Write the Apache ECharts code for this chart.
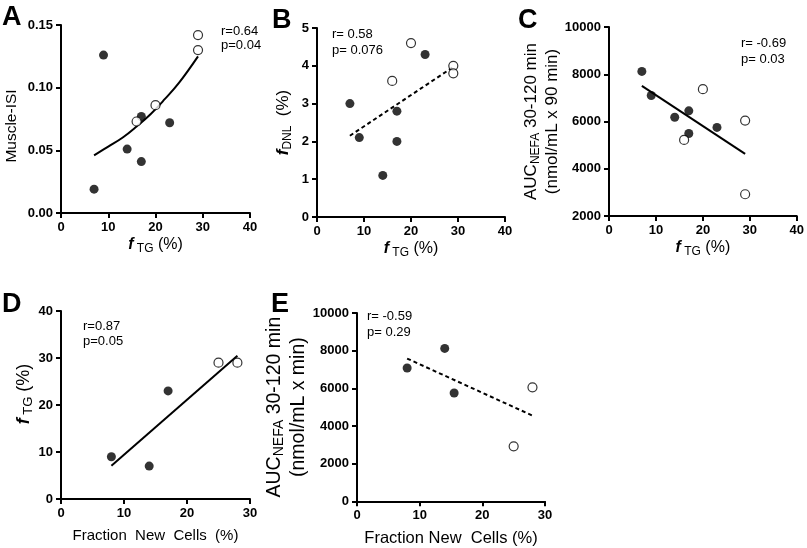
<!DOCTYPE html>
<html><head><meta charset="utf-8">
<script src="https://cdn.jsdelivr.net/npm/echarts@6/dist/echarts.min.js"></script>
<style>html,body{margin:0;padding:0;background:#fff}#c{width:807px;height:548px}</style>
</head><body><div id="c"></div>
<script>
// ---- data ----
const fTG_filled = [7, 9, 14, 17, 17, 23];
const fTG_open = [16, 20, 29, 29];
const isi_filled = [0.019, 0.126, 0.051, 0.077, 0.041, 0.072];
const isi_open = [0.073, 0.086, 0.142, 0.130];
const isiFitX = [7, 10, 13, 16, 19, 22, 25, 29];
const isiFitY = [0.046, 0.053, 0.060, 0.069, 0.079, 0.091, 0.104, 0.125];
const dnl_filled = [3.0, 2.1, 1.1, 2.8, 2.0, 4.3];
const dnl_open = [3.6, 4.6, 4.0, 3.8];
const dnlFitX = [7, 29];
const dnlFitY = [2.15, 3.97];
const auc_filled = [8120, 7100, 6180, 6450, 5490, 5750];
const auc_open = [5220, 7370, 6040, 2920];
const aucFitX = [7, 29];
const aucFitY = [7510, 4630];
const frac_filled = [8, 14, 17];
const frac_open = [25, 28];
const fTGd_filled = [9, 7, 23];
const fTGd_open = [29, 29];
const dFitX = [8, 28];
const dFitY = [7.1, 30.5];
const fracE_filled = [8, 14, 15.5];
const fracE_open = [25, 28];
const aucE_filled = [7080, 8120, 5750];
const aucE_open = [2920, 6050];
const eFitX = [8, 28];
const eFitY = [7580, 4550];
const stats = [
  ['r=0.64', 'p=0.04'],
  ['r= 0.58', 'p= 0.076'],
  ['r= -0.69', 'p= 0.03'],
  ['r=0.87', 'p=0.05'],
  ['r= -0.59', 'p= 0.29']
];
const panelLetters = ['A', 'B', 'C', 'D', 'E'];

// ---- helpers ----
const FONT = '"Liberation Sans", Arial, Helvetica, sans-serif';
const zip = (xs, ys) => xs.map((x, i) => [x, ys[i]]);
function richSet(main, sub) {
  return {
    fi: {fontFamily: FONT, fontSize: main, fontWeight: 'bold', fontStyle: 'italic', color: '#000', lineHeight: main + 4, verticalAlign: 'middle'},
    s: {fontFamily: FONT, fontSize: sub, color: '#000', lineHeight: sub, verticalAlign: 'bottom'},
    n: {fontFamily: FONT, fontSize: main, color: '#000', lineHeight: main + 4, verticalAlign: 'middle'}
  };
}
function xAx(idx, max, name, nameGap, rich) {
  return {
    gridIndex: idx, type: 'value', min: 0, max: max, interval: 10,
    axisLine: {onZero: false, lineStyle: {color: '#000', width: 2}},
    axisTick: {length: 5, lineStyle: {color: '#000', width: 2}},
    axisLabel: {color: '#000', fontFamily: FONT, fontWeight: 'bold', fontSize: 13, margin: 8},
    splitLine: {show: false},
    name: name, nameLocation: 'middle', nameGap: nameGap,
    nameTextStyle: {rich: rich, fontFamily: FONT, color: '#000'}
  };
}
function yAx(idx, min, max, interval, dec, name, nameGap, rich, pad) {
  return {
    gridIndex: idx, type: 'value', min: min, max: max, interval: interval,
    axisLine: {onZero: false, lineStyle: {color: '#000', width: 2}},
    axisTick: {length: 5, lineStyle: {color: '#000', width: 2}},
    axisLabel: {color: '#000', fontFamily: FONT, fontWeight: 'bold', fontSize: 13, margin: 8,
      formatter: v => v.toFixed(dec)},
    splitLine: {show: false},
    name: name, nameLocation: 'middle', nameGap: nameGap, nameRotate: 90,
    nameTextStyle: {rich: rich, fontFamily: FONT, color: '#000', padding: pad || 0}
  };
}
function filled(i, xs, ys) {
  return {type: 'scatter', xAxisIndex: i, yAxisIndex: i, data: zip(xs, ys), symbolSize: 9,
    itemStyle: {color: '#000'}, z: 5};
}
function open(i, xs, ys) {
  return {type: 'scatter', xAxisIndex: i, yAxisIndex: i, data: zip(xs, ys), symbolSize: 9,
    itemStyle: {color: '#fff', borderColor: '#000', borderWidth: 1.2}, z: 5};
}
function fit(i, xs, ys, dashed, smooth) {
  return {type: 'line', xAxisIndex: i, yAxisIndex: i, data: zip(xs, ys), symbol: 'none', smooth: smooth ? 0.4 : false,
    lineStyle: {color: '#000', width: 2, type: dashed ? [4, 3] : 'solid'}, z: 3};
}

const fTGname = '{fi|f}{s| TG}{n| (%)}';
const grids = [
  {left: 61, top: 25, width: 189, height: 188},
  {left: 317, top: 28, width: 188, height: 189},
  {left: 609, top: 27, width: 188, height: 189},
  {left: 61, top: 311, width: 189, height: 188},
  {left: 357, top: 313, width: 188, height: 189}
];
const statPos = [[221, 31, 14.5], [332, 34, 16.5], [741, 43, 16], [83, 326, 15], [367, 316, 16]];
const letterPos = [[2, 4], [272, 7], [518, 7], [2, 291], [271, 291]];

const graphic = [];
stats.forEach((s, i) => {
  const p = statPos[i];
  s.forEach((t, j) => graphic.push({type: 'text', x: p[0], y: p[1] + j * p[2],
    style: {text: t, fontFamily: FONT, fontSize: 13, fill: '#000', verticalAlign: 'middle', align: 'left'}}));
});
panelLetters.forEach((l, i) => graphic.push({type: 'text', x: letterPos[i][0], y: letterPos[i][1],
  style: {text: l, fontFamily: FONT, fontSize: 27, fontWeight: 'bold', fill: '#000', verticalAlign: 'top', align: 'left'}}));

const option = {
  animation: false,
  backgroundColor: '#fff',
  grid: grids,
  xAxis: [
    xAx(0, 40, fTGname, 22, richSet(16, 12)),
    xAx(1, 40, fTGname, 22, richSet(16, 12)),
    xAx(2, 40, fTGname, 22, richSet(16, 12)),
    xAx(3, 30, '{n|Fraction  New  Cells  (%)}', 27, richSet(15, 11)),
    xAx(4, 30, '{n|Fraction New  Cells (%)}', 27, richSet(16.5, 12))
  ],
  yAxis: [
    yAx(0, 0, 0.15, 0.05, 2, '{n|Muscle-ISI}', 40, richSet(15.5, 11), [0, 14, 0, 0]),
    yAx(1, 0, 5, 1, 0, '{fi|f}{s|DNL}{n|  (%)}', 23, richSet(17, 12)),
    yAx(2, 2000, 10000, 2000, 0, '{n|AUC}{s|NEFA}{n| 30-120 min}\n{n|(nmol/mL x 90 min)}', 37, richSet(17, 12)),
    yAx(3, 0, 40, 10, 0, '{fi|f}{s| TG}{n| (%)}', 19, richSet(18, 13), [0, 0, 0, 22]),
    yAx(4, 0, 10000, 2000, 0, '{n|AUC}{s|NEFA}{n| 30-120 min}\n{n|(nmol/mL x min)}', 47, richSet(19.5, 14))
  ],
  series: [
    fit(0, isiFitX, isiFitY, false, true),
    filled(0, fTG_filled, isi_filled),
    open(0, fTG_open, isi_open),
    fit(1, dnlFitX, dnlFitY, true),
    filled(1, fTG_filled, dnl_filled),
    open(1, fTG_open, dnl_open),
    fit(2, aucFitX, aucFitY, false),
    filled(2, fTG_filled, auc_filled),
    open(2, fTG_open, auc_open),
    fit(3, dFitX, dFitY, false),
    filled(3, frac_filled, fTGd_filled),
    open(3, frac_open, fTGd_open),
    fit(4, eFitX, eFitY, true),
    filled(4, fracE_filled, aucE_filled),
    open(4, fracE_open, aucE_open)
  ],
  graphic: graphic
};
const chart = echarts.init(document.getElementById('c'), null, {renderer: 'canvas', width: 807, height: 548});
chart.setOption(option);
</script>
</body></html>
